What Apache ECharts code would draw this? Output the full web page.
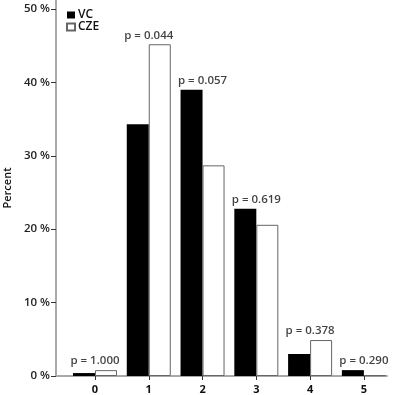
<!DOCTYPE html>
<html>
<head>
<meta charset="utf-8">
<script src="https://cdn.jsdelivr.net/npm/echarts@6/dist/echarts.min.js"></script>
<style>
  html, body { margin: 0; padding: 0; background: #fff; }
  #chart { width: 397px; height: 395px; }
</style>
</head>
<body>
<div id="chart"></div>
<script>
// number of symptoms (categories) and percent per group
var categories = [0, 1, 2, 3, 4, 5];
var vcValues = [0.4, 34.3, 39.0, 22.8, 3.0, 0.8];
var czeValues = [0.8, 45.2, 28.7, 20.6, 4.9, 0.1];
var pLabels = ['p = 1.000', 'p = 0.044', 'p = 0.057', 'p = 0.619', 'p = 0.378', 'p = 0.290'];
var yTicks = [0, 10, 20, 30, 40, 50];

var font = '"Open Sans", "Noto Sans", sans-serif';

var myChart = echarts.init(document.getElementById('chart'));

var vcData = categories.map(function(c, i) { return [c, vcValues[i]]; });
var czeData = categories.map(function(c, i) { return [c, czeValues[i]]; });
// p-value sits over the taller bar of each pair
var pData = categories.map(function(c, i) { return [c, Math.max(vcValues[i], czeValues[i])]; });

option = {
	animation: false,
	grid: {
		left: 56,
		right: 10,
		top: 0,
		bottom: 19,
		outerBoundsMode: 'none'
	},
	legend: {
		data: ['VC', 'CZE'],
		orient: 'vertical',
		left: 66,
		top: 9,
		padding: 0,
		icon: 'rect',
		itemWidth: 8,
		itemHeight: 7,
		itemGap: 0,
		textStyle: {
			fontFamily: font,
			fontSize: 12,
			fontWeight: 600,
			color: '#111',
			lineHeight: 11,
			padding: [0, 0, 0, -2]
		}
	},
	xAxis: {
		type: 'value',
		min: -0.725,
		max: 5.43,
		splitLine: { show: false },
		axisLine: { show: true, onZero: false, lineStyle: { color: '#aaa', width: 2 } },
		axisTick: { show: true, length: 4, customValues: categories, lineStyle: { color: '#333', width: 1 } },
		axisLabel: {
			customValues: categories,
			margin: 8,
			fontFamily: font,
			fontSize: 11,
			fontWeight: 700,
			color: '#111'
		}
	},
	yAxis: {
		type: 'value',
		min: 0,
		max: 51.23,
		name: 'Percent',
		nameLocation: 'middle',
		nameRotate: 90,
		nameGap: 43,
		nameTextStyle: {
			fontFamily: font,
			fontSize: 11,
			fontWeight: 600,
			color: '#111'
		},
		splitLine: { show: false },
		axisLine: { show: true, onZero: false, lineStyle: { color: '#aaa', width: 2 } },
		axisTick: { show: true, length: 5, customValues: yTicks, lineStyle: { color: '#333', width: 1 } },
		axisLabel: {
			customValues: yTicks,
			margin: 6,
			fontFamily: font,
			fontSize: 11.5,
			fontWeight: 600,
			color: '#222',
			formatter: '{value} %'
		}
	},
	series: [
		{
			name: 'VC',
			type: 'bar',
			data: vcData,
			barWidth: 22,
			barGap: '0%',
			itemStyle: { color: '#000', borderColor: '#000', borderWidth: 0 }
		},
		{
			name: 'CZE',
			type: 'bar',
			data: czeData,
			barWidth: 22,
			itemStyle: { color: '#fff', borderColor: '#666', borderWidth: 1 }
		},
		{
			name: 'p',
			type: 'scatter',
			data: pData,
			symbolSize: 0,
			silent: true,
			label: {
				show: true,
				position: 'top',
				distance: 3,
				fontFamily: font,
				fontSize: 11.5,
				fontWeight: 600,
				color: '#111',
				formatter: function(params) {
					return pLabels[params.dataIndex];
				}
			}
		}
	]
};

myChart.setOption(option);
</script>
</body>
</html>
